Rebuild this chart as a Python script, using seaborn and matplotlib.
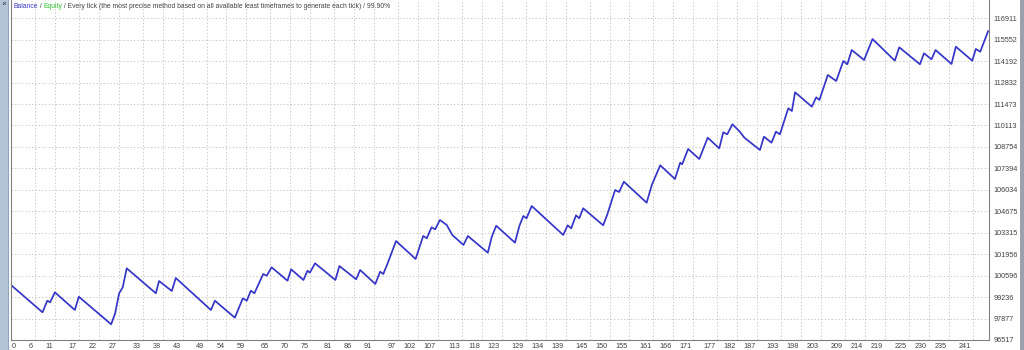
import matplotlib
matplotlib.use("Agg")
import matplotlib.pyplot as plt
import seaborn as sns
import pandas as pd
from matplotlib.patches import Rectangle
from matplotlib.transforms import ScaledTranslation

# ---------------- data ----------------
trade = [0.0, 7.9, 9.1, 9.8, 11.0, 16.0, 17.0, 25.1, 26.1, 27.1, 28.0, 29.0,
         36.3, 37.1, 40.3, 41.3, 50.1, 51.1, 56.1, 58.1, 59.1, 60.1, 61.0,
         63.2, 64.1, 65.3, 69.3, 70.2, 73.3, 74.3, 74.9, 76.2, 81.3, 82.3,
         86.5, 87.5, 91.3, 92.5, 93.3, 94.3, 96.5, 101.4, 103.3, 104.2, 105.4,
         106.3, 107.5, 109.2, 110.6, 113.4, 114.5, 119.5, 120.5, 121.6, 126.3,
         127.4, 128.4, 129.2, 130.5, 138.4, 139.5, 140.4, 141.6, 142.4, 143.4,
         148.4, 149.4, 151.4, 152.4, 153.6, 159.3, 160.6, 162.7, 166.4, 167.7,
         168.2, 169.7, 172.5, 174.6, 177.5, 178.5, 179.5, 180.8, 182.5, 183.8,
         187.7, 188.7, 190.6, 191.7, 192.7, 194.8, 195.7, 196.5, 200.7, 201.8,
         202.6, 204.7, 206.8, 208.6, 209.6, 210.7, 213.8, 215.9, 221.5, 222.6,
         227.8, 228.8, 230.7, 231.7, 235.7, 236.8, 240.9, 241.8, 242.9, 244.9]
balance = [100000, 98273, 99008, 98906, 99540, 98418, 99261, 97512, 98209, 99477,
           99857, 101061, 99477, 100256, 99623, 100447, 98418, 99008, 97930,
           99160, 99008, 99642, 99477, 100700, 100592, 101125, 100275, 100998,
           100320, 100909, 100782, 101378, 100320, 101207, 100364, 100954,
           100066, 100846, 100700, 101315, 102792, 101651, 103109, 102963,
           103660, 103533, 104123, 103806, 103172, 102538, 103109, 102050,
           103064, 103761, 102684, 103742, 104376, 104230, 105010, 103172,
           103787, 103597, 104420, 104230, 104864, 103787, 104440, 106024,
           105897, 106550, 105219, 106341, 107590, 106721, 107754, 107653,
           108623, 107989, 109339, 108667, 109681, 109554, 110188, 109763,
           109339, 108559, 109402, 109022, 109719, 109554, 111202, 111031,
           112216, 111304, 111899, 111728, 113313, 112932, 114200, 113991,
           114897, 114263, 115594, 114219, 115068, 113991, 114688, 114308,
           114897, 114010, 115106, 114219, 114961, 114789, 116103]

x_tick_labels = [0, 6, 11, 17, 22, 27, 33, 38, 43, 49, 54, 59, 65, 70, 75, 81,
                 86, 91, 97, 102, 107, 113, 118, 123, 129, 134, 139, 145, 150,
                 155, 161, 166, 171, 177, 182, 187, 193, 198, 203, 209, 214, 219,
                 225, 230, 235, 241]
y_tick_values = [96517, 97877, 99236, 100596, 101956, 103315, 104675, 106034,
                 107394, 108754, 110113, 111473, 112832, 114192, 115552, 116911]

header_parts = ["Balance", " / ", "Equity",
                " / Every tick (the most precise method based on all available least "
                "timeframes to generate each tick) / 99.90%"]
header_colors = ["#3a3ac0", "#444444", "#2fbf2f", "#444444"]

# ---------------- figure ----------------
sns.set_theme(style="white")
plt.rcParams['font.family'] = ['Liberation Sans', 'DejaVu Sans']

W, H = 1024, 350
fig = plt.figure(figsize=(W / 100, H / 100), dpi=100)
fig.patch.set_facecolor("white")

ax = fig.add_axes([11 / W, 10 / H, 978 / W, 340 / H])
ax.set_facecolor("white")

df = pd.DataFrame({"trade": trade, "balance": balance})
sns.lineplot(data=df, x="trade", y="balance", ax=ax, color="#3535c8",
             linewidth=1.25, estimator=None, sort=False)

ax.set_xlim(0, 245.1)
ax.set_ylim(96517, 118066)

ax.set_xticks(x_tick_labels)
ax.set_xticklabels([str(v) for v in x_tick_labels], ha="right")
ax.yaxis.tick_right()
ax.set_yticks(y_tick_values)
ax.set_yticklabels([str(v) for v in y_tick_values])

ax.grid(True, color="#cccccc", linestyle=(0, (1.5, 2.0)), linewidth=0.7)
ax.set_xlabel("")
ax.set_ylabel("")

for side in ["left", "bottom", "right"]:
    ax.spines[side].set_visible(True)
    ax.spines[side].set_color("#808080")
    ax.spines[side].set_linewidth(0.8)
ax.spines["top"].set_visible(False)

ax.tick_params(axis="both", length=0, labelsize=5.2, colors="#404040")
ax.tick_params(axis="x", pad=2.5)
ax.tick_params(axis="y", pad=3)

xl = ax.get_xticklabels()
for lbl in xl:
    lbl.set_transform(lbl.get_transform() + ScaledTranslation(-2 / 100, 0, fig.dpi_scale_trans))
xl[0].set_ha("left")
xl[0].set_transform(xl[0].get_transform() + ScaledTranslation(3 / 100, 0, fig.dpi_scale_trans))

# left side strip & right side strip (window chrome)
fig.add_artist(Rectangle((0, 0), 8 / W, 1, transform=fig.transFigure,
                         facecolor="#b3c4d8", edgecolor="none"))
fig.add_artist(Rectangle((7.5 / W, 0), 1 / W, 1, transform=fig.transFigure,
                         facecolor="#8fa3ba", edgecolor="none"))
fig.add_artist(Rectangle((1020 / W, 0), 4 / W, 1, transform=fig.transFigure,
                         facecolor="#9aa2ab", edgecolor="none"))
fig.text(1 / W, 1 - 4 / H, "×", fontsize=6, color="#333333", va="center", ha="left")

# header text, in colored parts
fig.canvas.draw()
renderer = fig.canvas.get_renderer()
x_px = 13.0
for part, col in zip(header_parts, header_colors):
    t = fig.text(x_px / W, 1 - 6 / H, part, fontsize=4.9, color=col,
                 va="center", ha="left")
    bb = t.get_window_extent(renderer=renderer)
    x_px += bb.width

fig.savefig("out.png", dpi=100, facecolor="white")
